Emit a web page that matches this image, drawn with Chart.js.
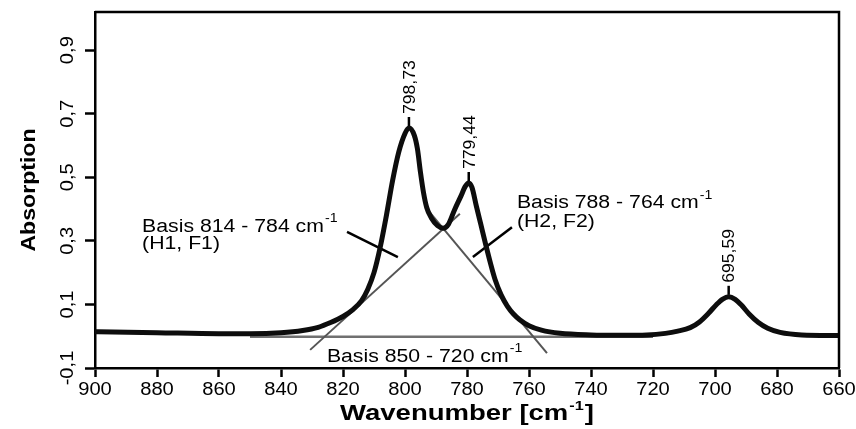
<!DOCTYPE html>
<html>
<head>
<meta charset="utf-8">
<script src="https://cdn.jsdelivr.net/npm/chart.js@4.4.0/dist/chart.umd.min.js"></script>
<style>
  html, body { margin: 0; padding: 0; background: #fff; }
  canvas { display: block; }
</style>
</head>
<body>
<canvas id="spectrum" width="856" height="429"></canvas>
<script>
// IR spectrum: absorption vs. wavenumber, with the baselines used for peak evaluation
const wavenumbers = [900, 880, 860, 850, 840, 833, 828, 824, 820, 817, 814, 812, 810, 808, 806, 804, 802, 800,
  798.73, 797, 796, 795, 794, 793, 791.5, 789.5, 787.7, 786, 784, 782, 780.5, 779.44, 778.4, 777, 775.5, 774,
  772.5, 771, 769, 767, 765, 763, 760, 756, 750, 740, 730, 722, 716, 712, 708, 705, 702, 699.5, 697.5,
  695.59, 693.5, 691.5, 689, 686, 683, 679, 672, 660];
const absorption = [0.014, 0.011, 0.008, 0.008, 0.011, 0.018, 0.028, 0.043, 0.062, 0.082, 0.112, 0.148, 0.2, 0.28, 0.38, 0.49, 0.58, 0.638,
  0.655, 0.632, 0.59, 0.515, 0.45, 0.405, 0.372, 0.348, 0.34, 0.352, 0.398, 0.44, 0.472, 0.482, 0.468, 0.41, 0.35, 0.29,
  0.232, 0.18, 0.13, 0.095, 0.07, 0.052, 0.033, 0.019, 0.009, 0.004, 0.003, 0.004, 0.009, 0.016, 0.027, 0.045, 0.073, 0.1, 0.117,
  0.124, 0.116, 0.098, 0.07, 0.043, 0.025, 0.012, 0.004, 0.002];

const xTicks = [900, 880, 860, 840, 820, 800, 780, 760, 740, 720, 700, 680, 660];
const yTicks = [-0.1, 0.1, 0.3, 0.5, 0.7, 0.9];

const peakPositions = [798.73, 779.44, 695.59];
const peakHeights = [0.655, 0.482, 0.124];

// baselines (gray) and leader lines (black)
const baseTotal = [[850, -0.002], [720, -0.002]];
const baseH1 = [[830.6, -0.043], [782.3, 0.385]];
const baseH2 = [[792.6, 0.397], [754.2, -0.053]];
const leaderH1 = [[818.7, 0.328], [802.3, 0.249]];
const leaderH2 = [[765.5, 0.343], [778.1, 0.249]];

const FONT = '"Liberation Sans", Arial, Helvetica, sans-serif';
const STRETCH = 1.15;

function pts(list) {
  return list.map(p => ({ x: p[0], y: p[1] }));
}

function fmt(v) {
  return String(v).replace('.', ',');
}

// text drawn slightly wider than the font's natural width
function wideText(ctx, str, x, y, sx) {
  ctx.save();
  ctx.translate(x, y);
  ctx.scale(sx, 1);
  ctx.fillText(str, 0, 0);
  ctx.restore();
  return ctx.measureText(str).width * sx;
}

function labelWithUnit(ctx, main, x, y, size, bold, sx) {
  const w = bold ? 'bold ' : '';
  ctx.font = w + size + 'px ' + FONT;
  ctx.textAlign = 'left';
  ctx.textBaseline = 'alphabetic';
  const mw = wideText(ctx, main, x, y, sx);
  ctx.font = w + Math.round(size * 0.68) + 'px ' + FONT;
  const sw = wideText(ctx, '-1', x + mw + 1, y - size * 0.55, sx);
  return mw + sw + 1;
}

const annotate = {
  id: 'annotate',
  afterDraw(chart) {
    const { ctx, chartArea: a, scales: { x, y } } = chart;
    ctx.save();
    ctx.fillStyle = '#000';
    ctx.strokeStyle = '#000';

    // top and right frame lines
    ctx.lineWidth = 2.5;
    ctx.beginPath();
    ctx.moveTo(a.left, a.top);
    ctx.lineTo(a.right, a.top);
    ctx.lineTo(a.right, a.bottom);
    ctx.stroke();

    // x tick labels
    ctx.font = '17.5px ' + FONT;
    ctx.textAlign = 'center';
    ctx.textBaseline = 'alphabetic';
    x.ticks.forEach(t => {
      const px = x.getPixelForValue(t.value);
      ctx.save();
      ctx.translate(px, a.bottom + 27);
      ctx.scale(STRETCH, 1);
      ctx.fillText(String(t.value), 0, 0);
      ctx.restore();
    });

    // y tick labels, rotated
    y.ticks.forEach(t => {
      const py = y.getPixelForValue(t.value);
      ctx.save();
      ctx.translate(a.left - 22, py);
      ctx.rotate(-Math.PI / 2);
      ctx.scale(STRETCH, 1);
      ctx.fillText(fmt(t.value), 0, 0);
      ctx.restore();
    });

    // axis titles
    ctx.save();
    ctx.font = 'bold 21px ' + FONT;
    ctx.translate(a.left - 60, (a.top + a.bottom) / 2 + 0);
    ctx.rotate(-Math.PI / 2);
    ctx.scale(1.1, 1);
    ctx.textAlign = 'center';
    ctx.fillText('Absorption', 0, 0);
    ctx.restore();

    ctx.font = 'bold 22px ' + FONT;
    const sxT = 1.25;
    const wMain = ctx.measureText('Wavenumber [cm').width * sxT;
    ctx.font = 'bold 13px ' + FONT;
    const wSup = ctx.measureText('-1').width * sxT;
    ctx.font = 'bold 22px ' + FONT;
    const wEnd = ctx.measureText(']').width * sxT;
    let tx = (a.left + a.right) / 2 - (wMain + wSup + wEnd + 2) / 2;
    const ty = a.bottom + 52;
    ctx.textAlign = 'left';
    wideText(ctx, 'Wavenumber [cm', tx, ty, sxT);
    ctx.font = 'bold 13px ' + FONT;
    wideText(ctx, '-1', tx + wMain + 1, ty - 10, sxT);
    ctx.font = 'bold 22px ' + FONT;
    wideText(ctx, ']', tx + wMain + wSup + 2, ty, sxT);

    // peak markers and wavenumber labels
    ctx.lineWidth = 2.5;
    ctx.font = '16px ' + FONT;
    peakPositions.forEach((p, i) => {
      const px = x.getPixelForValue(p);
      const py = y.getPixelForValue(peakHeights[i]);
      ctx.beginPath();
      ctx.moveTo(px, py - 2);
      ctx.lineTo(px, py - 11);
      ctx.stroke();
      ctx.save();
      ctx.translate(px, py - 14);
      ctx.rotate(-Math.PI / 2);
      ctx.scale(1.1, 1);
      ctx.textAlign = 'left';
      ctx.fillText(fmt(p), 0, 5.8);
      ctx.restore();
    });

    // baseline captions
    const sxL = 1.18;
    labelWithUnit(ctx, 'Basis 814 - 784 cm', x.getPixelForValue(884.8), y.getPixelForValue(0.329), 18, false, sxL);
    ctx.font = '18px ' + FONT;
    wideText(ctx, '(H1, F1)', x.getPixelForValue(884.8), y.getPixelForValue(0.273), sxL);
    labelWithUnit(ctx, 'Basis 788 - 764 cm', x.getPixelForValue(763.9), y.getPixelForValue(0.402), 18, false, sxL);
    ctx.font = '18px ' + FONT;
    wideText(ctx, '(H2, F2)', x.getPixelForValue(763.9), y.getPixelForValue(0.345), sxL);
    labelWithUnit(ctx, 'Basis 850 - 720 cm', x.getPixelForValue(825.2), y.getPixelForValue(-0.08), 18, false, sxL);

    ctx.restore();
  }
};

const lineSet = (data, color, width, order) => ({
  data: pts(data),
  borderColor: color,
  borderWidth: width,
  pointRadius: 0,
  showLine: true,
  fill: false,
  order: order
});

new Chart(document.getElementById('spectrum'), {
  type: 'scatter',
  data: {
    datasets: [
      {
        data: wavenumbers.map((w, i) => ({ x: w, y: absorption[i] })),
        borderColor: '#0d0d0d',
        borderWidth: 5,
        pointRadius: 0,
        showLine: true,
        fill: false,
        cubicInterpolationMode: 'monotone',
        borderCapStyle: 'round',
        borderJoinStyle: 'round',
        order: 0
      },
      lineSet(leaderH1, '#000', 2.5, 1),
      lineSet(leaderH2, '#000', 2.5, 1),
      lineSet(baseH1, '#555', 2, 2),
      lineSet(baseH2, '#555', 2, 2),
      lineSet(baseTotal, '#707070', 2.5, 3)
    ]
  },
  options: {
    responsive: false,
    animation: false,
    layout: { padding: { top: 12, right: 17, left: 0, bottom: 0 } },
    plugins: { legend: { display: false }, tooltip: { enabled: false } },
    scales: {
      x: {
        type: 'linear',
        reverse: true,
        min: 660,
        max: 900,
        afterBuildTicks: s => { s.ticks = xTicks.map(v => ({ value: v })); },
        afterFit: s => { s.height = 61; },
        ticks: { display: false },
        grid: { drawOnChartArea: false, drawTicks: true, tickLength: 9, tickColor: '#000', tickWidth: 2.5 },
        border: { color: '#000', width: 2.5 }
      },
      y: {
        min: -0.1,
        max: 1.02,
        afterBuildTicks: s => { s.ticks = yTicks.map(v => ({ value: v })); },
        afterFit: s => { s.width = 95; },
        ticks: { display: false },
        grid: { drawOnChartArea: false, drawTicks: true, tickLength: 10, tickColor: '#000', tickWidth: 2.5 },
        border: { color: '#000', width: 2.5 }
      }
    }
  },
  plugins: [annotate]
});
</script>
</body>
</html>
